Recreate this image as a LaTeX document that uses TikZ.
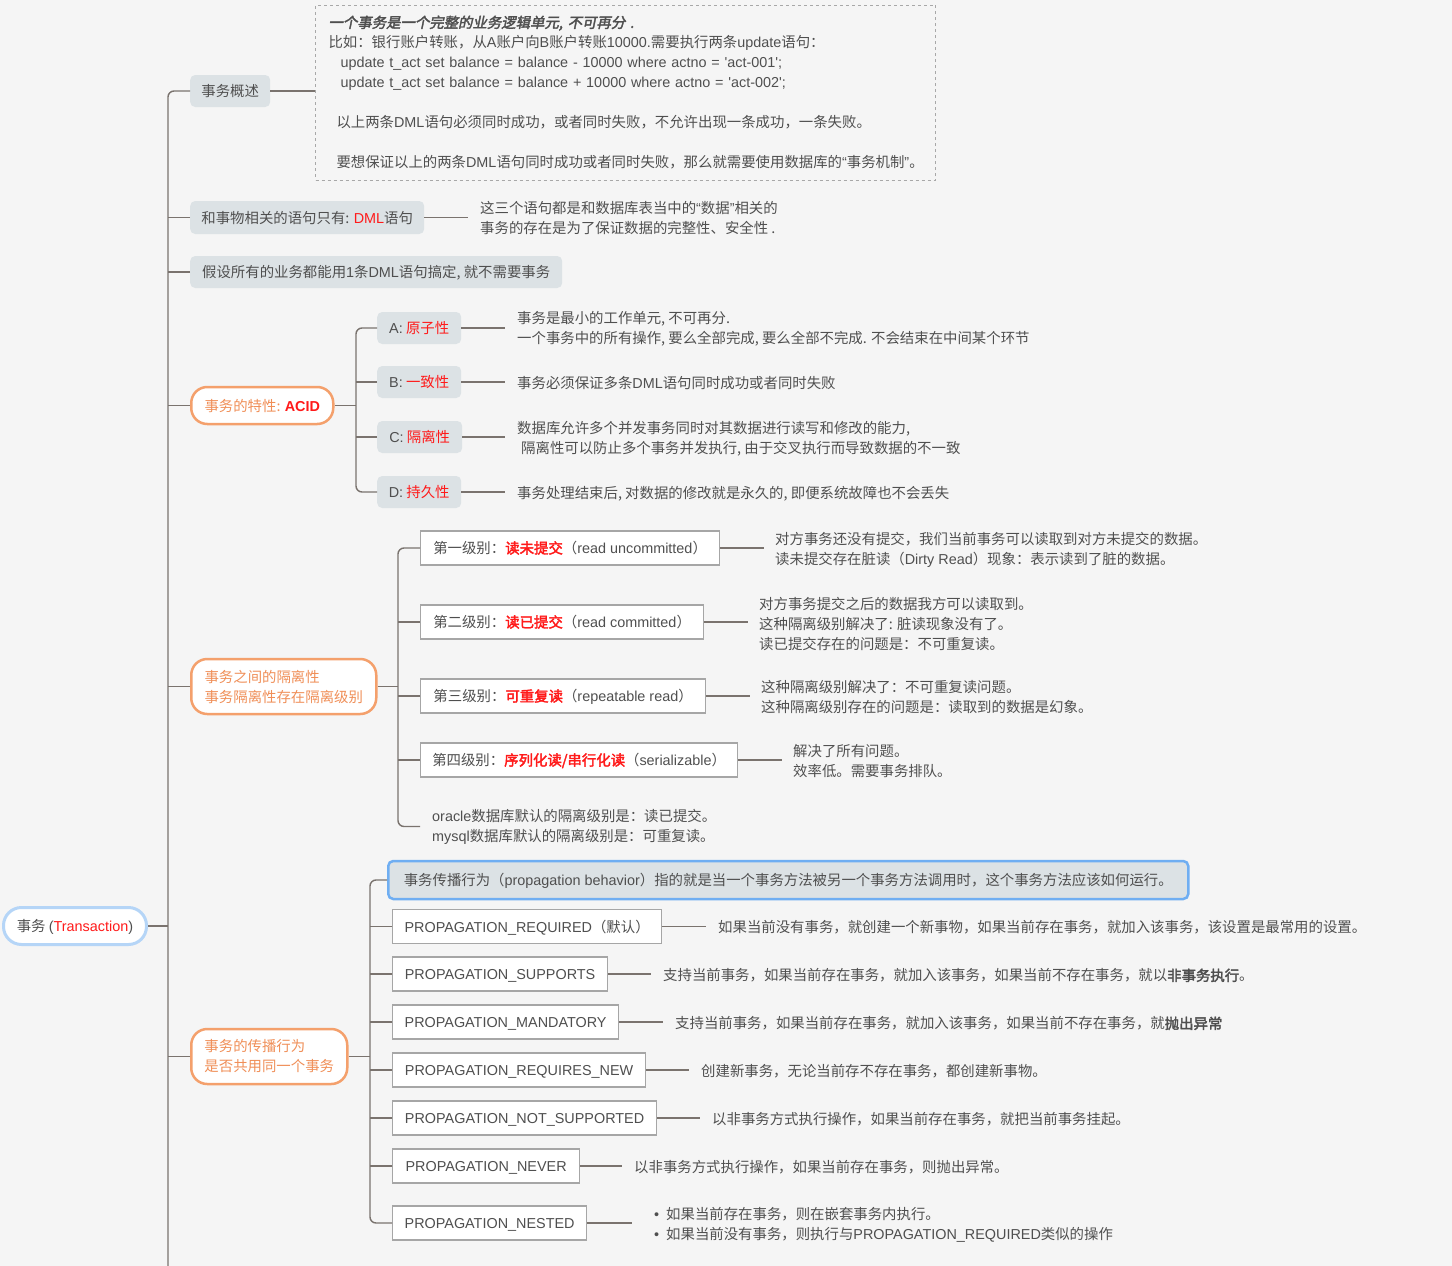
\documentclass[tikz,border=0pt]{standalone}
\usepackage{fontspec}
\setmainfont{Noto Sans CJK SC}[AutoFakeBold=2.5,AutoFakeSlant=0.2]
\newfontfamily\enfont{Liberation Sans}
\usetikzlibrary{calc}
\definecolor{bgc}{HTML}{F5F5F5}
\definecolor{lcol}{HTML}{7A736E}
\definecolor{gfill}{HTML}{DCE2E5}
\definecolor{tcol}{HTML}{4F4F4F}
\definecolor{ocol}{HTML}{F4A06C}
\definecolor{otxt}{HTML}{F08F58}
\definecolor{rootc}{HTML}{B5D5F7}
\definecolor{pblue}{HTML}{6FAEF2}
\definecolor{hred}{HTML}{FF1A1A}
\definecolor{wcol}{HTML}{A6A6A6}
\definecolor{dcol}{HTML}{A8A8A8}
\newcommand\en[1]{{\enfont #1}}
\newcommand\rd[1]{\textcolor{hred}{#1}}
\newcommand\rb[1]{\textcolor{hred}{\bfseries #1}}
\newcommand\fsz{\fontsize{14.4}{20}\selectfont}
\begin{document}
\begin{tikzpicture}[x=1pt,y=-1pt,
  every node/.style={font=\fsz, text=tcol},
  conn/.style={draw=lcol, line width=1.4pt},
  oneline/.style={text height=12.5pt, text depth=1.5pt},
  gbox/.style={oneline, fill=gfill, rounded corners=5pt, anchor=west, minimum height=32pt, inner sep=0pt},
  obox/.style={draw=ocol, line width=2.5pt, fill=white, rounded corners=16pt, anchor=west, text=otxt, inner sep=0pt},
  wbox/.style={oneline, draw=wcol, line width=1.2pt, fill=white, anchor=west, minimum height=34pt, inner sep=0pt},
  txt/.style={anchor=west, inner sep=0pt, align=left, yshift=-1.5pt},
]
\useasboundingbox (0,0) rectangle (1452,1266);
\fill[bgc] (0,0) rectangle (1452,1266);

\coordinate (tk) at (168,0);
\coordinate (tkend) at (168,1272);
\coordinate (acx) at (356,0);
\coordinate (isx) at (398,0);
\coordinate (prx) at (370,0);

% root
\node[oneline, draw=rootc, line width=3pt, fill=white, rounded corners=18pt, anchor=west,
      minimum width=143, minimum height=37, inner sep=0pt] (root) at (2,926)
      {事务 \en{(}\rd{\en{Transaction}}\en{)}};

% overview
\node[gbox, minimum width=80] (ov) at (190,91) {事务概述};
\node[draw=dcol, dashed, line width=1pt, anchor=west, text width=594, inner xsep=13pt, inner ysep=0pt,
      minimum height=175, align=left] (dsc) at (315,92.5)
{{\bfseries\itshape 一个事务是一个完整的业务逻辑单元, 不可再分 .}\\
比如：银行账户转账，从\en{A}账户向\en{B}账户转账\en{10000.}需要执行两条\en{update}语句：\\
\hspace*{12pt}\en{update t\_act set balance = balance - 10000 where actno = \textquotesingle act-001\textquotesingle;}\\
\hspace*{12pt}\en{update t\_act set balance = balance + 10000 where actno = \textquotesingle act-002\textquotesingle;}\\
\mbox{}\\
\hspace*{8pt}以上两条\en{DML}语句必须同时成功，或者同时失败，不允许出现一条成功，一条失败。\\
\mbox{}\\
\hspace*{8pt}要想保证以上的两条\en{DML}语句同时成功或者同时失败，那么就需要使用数据库的\en{“}事务机制\en{”}。};

% DML
\node[gbox, minimum width=234, minimum height=33] (dml) at (190,217.5) {和事物相关的语句只有: \rd{\en{DML}}语句};
\node[txt] (dmlt) at (480,217) {这三个语句都是和数据库表当中的\en{“}数据\en{”}相关的\\事务的存在是为了保证数据的完整性、安全性 .};

% hypothesis
\node[gbox, minimum width=372] (hyp) at (190,272) {假设所有的业务都能用\en{1}条\en{DML}语句搞定, 就不需要事务};

% ACID
\node[obox, oneline, minimum width=142, minimum height=37] (acid) at (190,405.5) {事务的特性: \rb{\en{ACID}}};
\node[gbox, minimum width=84] (ca) at (377,328) {\en{A:} \rd{原子性}};
\node[gbox, minimum width=84] (cb) at (377,382) {\en{B:} \rd{一致性}};
\node[gbox, minimum width=85] (cc) at (377,437) {\en{C:} \rd{隔离性}};
\node[gbox, minimum width=84] (cd) at (377,492) {\en{D:} \rd{持久性}};
\node[txt] (ta) at (517,327) {事务是最小的工作单元, 不可再分.\\一个事务中的所有操作, 要么全部完成, 要么全部不完成. 不会结束在中间某个环节};
\node[txt] (tb) at (517,382) {事务必须保证多条\en{DML}语句同时成功或者同时失败};
\node[txt] (tc) at (517,437) {数据库允许多个并发事务同时对其数据进行读写和修改的能力,\\\hspace*{4pt}隔离性可以防止多个事务并发执行, 由于交叉执行而导致数据的不一致};
\node[txt] (td) at (517,492) {事务处理结束后, 对数据的修改就是永久的, 即便系统故障也不会丢失};

% isolation
\node[obox, minimum width=185, minimum height=55, align=left] (iso) at (190,686.5)
  {事务之间的隔离性\\事务隔离性存在隔离级别};
\node[wbox, minimum width=299] (l1) at (420,548) {第一级别：\rb{读未提交}（\en{read uncommitted}）};
\node[wbox, minimum width=283] (l2) at (420,622) {第二级别：\rb{读已提交}（\en{read committed}）};
\node[wbox, minimum width=285] (l3) at (420,696) {第三级别：\rb{可重复读}（\en{repeatable read}）};
\node[wbox, minimum width=317] (l4) at (420,760) {第四级别：\rb{序列化读/串行化读}（\en{serializable}）};
\node[txt] (t1) at (775,548) {对方事务还没有提交，我们当前事务可以读取到对方未提交的数据。\\读未提交存在脏读（\en{Dirty Read}）现象：表示读到了脏的数据。};
\node[txt] (t2) at (759,622) {对方事务提交之后的数据我方可以读取到。\\这种隔离级别解决了: 脏读现象没有了。\\读已提交存在的问题是：不可重复读。};
\node[txt] (t3) at (761,696) {这种隔离级别解决了：不可重复读问题。\\这种隔离级别存在的问题是：读取到的数据是幻象。};
\node[txt] (t4) at (793,760) {解决了所有问题。\\效率低。需要事务排队。};
\node[txt] (ora) at (432,825) {\en{oracle}数据库默认的隔离级别是：读已提交。\\\en{mysql}数据库默认的隔离级别是：可重复读。};

% propagation
\node[obox, minimum width=156, minimum height=55, align=left] (prop) at (190,1056.5)
  {事务的传播行为\\是否共用同一个事务};
\node[oneline, fill=gfill, draw=pblue, line width=2.5pt, rounded corners=5pt, anchor=west,
      minimum width=800, minimum height=38, inner sep=0pt] (p0) at (387,880)
  {事务传播行为（\en{propagation behavior}）指的就是当一个事务方法被另一个事务方法调用时，这个事务方法应该如何运行。};
\node[wbox, minimum width=269] (p1) at (392,926.5) {\en{PROPAGATION\_REQUIRED}（默认）};
\node[wbox, minimum width=215] (p2) at (392,974) {\en{PROPAGATION\_SUPPORTS}};
\node[wbox, minimum width=226] (p3) at (392,1022) {\en{PROPAGATION\_MANDATORY}};
\node[wbox, minimum width=253] (p4) at (392,1070) {\en{PROPAGATION\_REQUIRES\_NEW}};
\node[wbox, minimum width=264] (p5) at (392,1118) {\en{PROPAGATION\_NOT\_SUPPORTED}};
\node[wbox, minimum width=187] (p6) at (392,1166) {\en{PROPAGATION\_NEVER}};
\node[wbox, minimum width=194] (p7) at (392,1223) {\en{PROPAGATION\_NESTED}};
\node[txt] (q1) at (718,926) {如果当前没有事务，就创建一个新事物，如果当前存在事务，就加入该事务，该设置是最常用的设置。};
\node[txt] (q2) at (663,974) {支持当前事务，如果当前存在事务，就加入该事务，如果当前不存在事务，就以{\bfseries 非事务执行}。};
\node[txt] (q3) at (675,1022) {支持当前事务，如果当前存在事务，就加入该事务，如果当前不存在事务，就{\bfseries 抛出异常}};
\node[txt] (q4) at (701,1070) {创建新事务，无论当前存不存在事务，都创建新事物。};
\node[txt] (q5) at (712,1118) {以非事务方式执行操作，如果当前存在事务，就把当前事务挂起。};
\node[txt] (q6) at (634,1166) {以非事务方式执行操作，如果当前存在事务，则抛出异常。};
\node[txt] (q7) at (654,1223) {\en{•}\hspace{7pt}如果当前存在事务，则在嵌套事务内执行。\\\en{•}\hspace{7pt}如果当前没有事务，则执行与\en{PROPAGATION\_REQUIRED}类似的操作};

% ---- connectors ----
\draw[conn, rounded corners=6pt] (ov.west) -- (ov.west -| tk) -- (tkend);
\draw[conn] (root.east) -- (root.east -| tk);
\foreach \n in {dml,hyp,acid,iso,prop} \draw[conn] (\n.west) -- (\n.west -| tk);
\draw[conn] (ov.east) -- (ov.east -| dsc.west);
\draw[conn] (dml.east) -- ($(dml.east -| dmlt.west)+(-12,0)$);

\draw[conn, rounded corners=6pt] (ca.west) -- (ca.west -| acx) -- (cd.west -| acx) -- (cd.west);
\draw[conn] (cb.west) -- (cb.west -| acx);
\draw[conn] (cc.west) -- (cc.west -| acx);
\draw[conn] (acid.east) -- (acid.east -| acx);
\foreach \b/\t in {ca/ta,cb/tb,cc/tc,cd/td} \draw[conn] (\b.east) -- ($(\b.east -| \t.west)+(-12,0)$);

\draw[conn, rounded corners=6pt] (l1.west) -- (l1.west -| isx) -- (ora.west -| isx) -- ($(ora.west)+(-12,0)$);
\foreach \n in {l2,l3,l4} \draw[conn] (\n.west) -- (\n.west -| isx);
\draw[conn] (iso.east) -- (iso.east -| isx);
\foreach \b/\t in {l1/t1,l2/t2,l3/t3,l4/t4} \draw[conn] (\b.east) -- ($(\b.east -| \t.west)+(-11,0)$);

\draw[conn, rounded corners=6pt] (p0.west) -- (p0.west -| prx) -- (p7.west -| prx) -- (p7.west);
\foreach \n in {p1,p2,p3,p4,p5,p6} \draw[conn] (\n.west) -- (\n.west -| prx);
\draw[conn] (prop.east) -- (prop.east -| prx);
\foreach \b/\t in {p1/q1,p2/q2,p3/q3,p4/q4,p5/q5,p6/q6} \draw[conn] (\b.east) -- ($(\b.east -| \t.west)+(-12,0)$);
\draw[conn] (p7.east) -- ($(p7.east -| q7.west)+(-22,0)$);
\end{tikzpicture}
\end{document}
